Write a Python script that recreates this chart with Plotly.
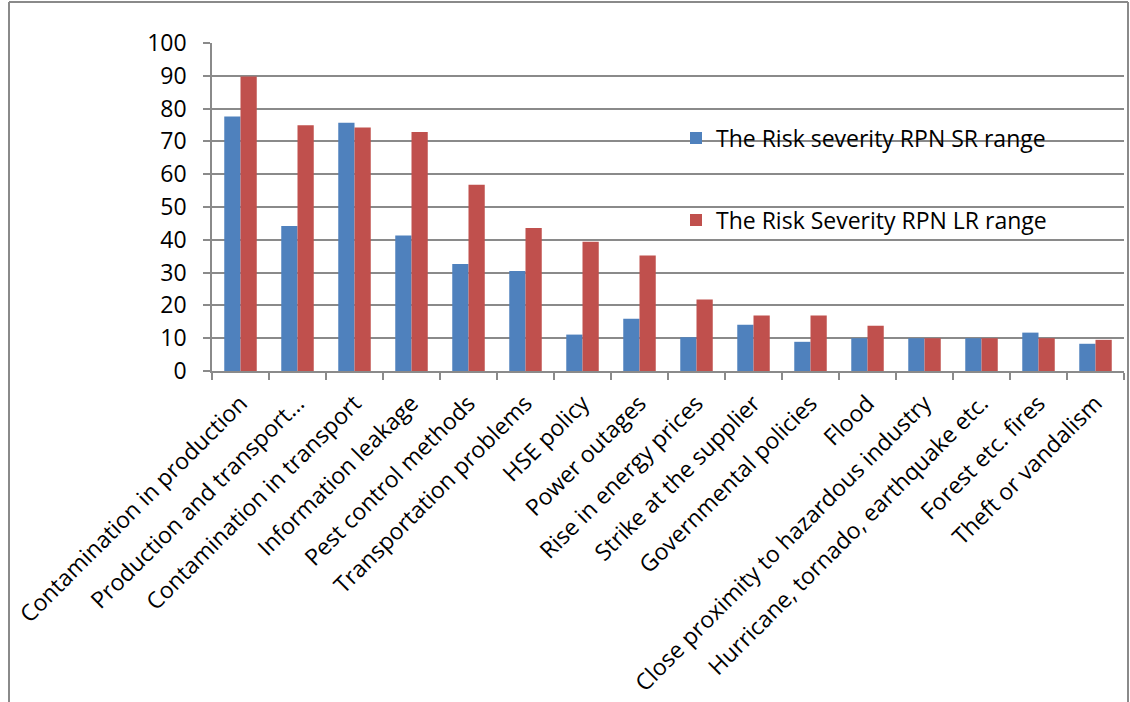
import plotly.graph_objects as go

categories = [
    "Contamination in production",
    "Production and transport…",
    "Contamination in transport",
    "Information leakage",
    "Pest control methods",
    "Transportation problems",
    "HSE policy",
    "Power outages",
    "Rise in energy prices",
    "Strike at the supplier",
    "Governmental policies",
    "Flood",
    "Close proximity to hazardous industry",
    "Hurricane, tornado, earthquake etc.",
    "Forest etc. fires",
    "Theft or vandalism",
]
sr_values = [77.6, 44.2, 75.7, 41.3, 32.6, 30.5, 11.1, 15.9, 10.3, 14.1, 8.9, 10.0, 10.0, 10.0, 11.7, 8.3]
lr_values = [89.8, 74.9, 74.2, 72.9, 56.8, 43.6, 39.4, 35.2, 21.8, 16.9, 16.9, 13.8, 10.0, 10.0, 10.0, 9.5]
series_names = ["The Risk severity RPN SR range", "The Risk Severity RPN LR range"]
y_ticks = list(range(0, 101, 10))

FONT = "Open Sans"
FS = 23
GRID = "#8a8a8a"

fig = go.Figure()
fig.add_trace(go.Bar(x=categories, y=sr_values, name=series_names[0], showlegend=True,
                     marker=dict(color="#4F81BD", line=dict(width=0)), legend="legend"))
fig.add_trace(go.Bar(x=categories, y=lr_values, name=series_names[1], showlegend=True,
                     marker=dict(color="#C0504D", line=dict(width=0)), legend="legend2"))

W, H = 1130, 702
L, R, T, B = 212, 6, 43, 331
pw = W - L - R
ph = H - T - B

def px_x(p):
    return (p - L) / pw

def px_y(p):
    return (H - B - p) / ph

legend_common = dict(
    font=dict(family=FONT, size=FS, color="#000000"),
    bgcolor="rgba(0,0,0,0)",
    xanchor="left", yanchor="middle",
    itemsizing="constant",
    visible=True,
)

fig.update_layout(
    width=W, height=H,
    margin=dict(l=L, r=R, t=T, b=B, pad=0),
    paper_bgcolor="white", plot_bgcolor="white",
    showlegend=True,
    barmode="group", bargap=0.43, bargroupgap=0,
    font=dict(family=FONT, size=FS, color="#000000"),
    legend=dict(x=px_x(676), y=px_y(138), **legend_common),
    legend2=dict(x=px_x(676), y=px_y(220), **legend_common),
    xaxis=dict(
        type="category",
        tickangle=-45,
        tickson="boundaries",
        ticks="outside", ticklen=7, tickcolor=GRID, tickwidth=1.5,
        showline=True, linecolor=GRID, linewidth=1.5,
        showgrid=False,
        tickfont=dict(family=FONT, size=FS, color="#000000"),
        ticklabelstandoff=8,
        automargin=False,
    ),
    yaxis=dict(
        range=[0, 100],
        tickvals=y_ticks,
        ticks="outside", ticklen=7, tickcolor=GRID, tickwidth=1.5,
        showline=True, linecolor=GRID, linewidth=1.5,
        showgrid=True, gridcolor=GRID, gridwidth=1.5,
        zeroline=False,
        tickfont=dict(family=FONT, size=FS, color="#000000"),
        ticklabelstandoff=12,
        automargin=False,
    ),
    shapes=[
        dict(type="line", xref="paper", yref="paper", x0=px_x(9), x1=px_x(9),
             y0=px_y(2), y1=px_y(702), line=dict(color=GRID, width=2)),
        dict(type="line", xref="paper", yref="paper", x0=px_x(1128), x1=px_x(1128),
             y0=px_y(2), y1=px_y(702), line=dict(color=GRID, width=2)),
        dict(type="line", xref="paper", yref="paper", x0=px_x(9), x1=px_x(1128),
             y0=px_y(2), y1=px_y(2), line=dict(color=GRID, width=2)),
    ],
)

fig.write_html("out.html")
